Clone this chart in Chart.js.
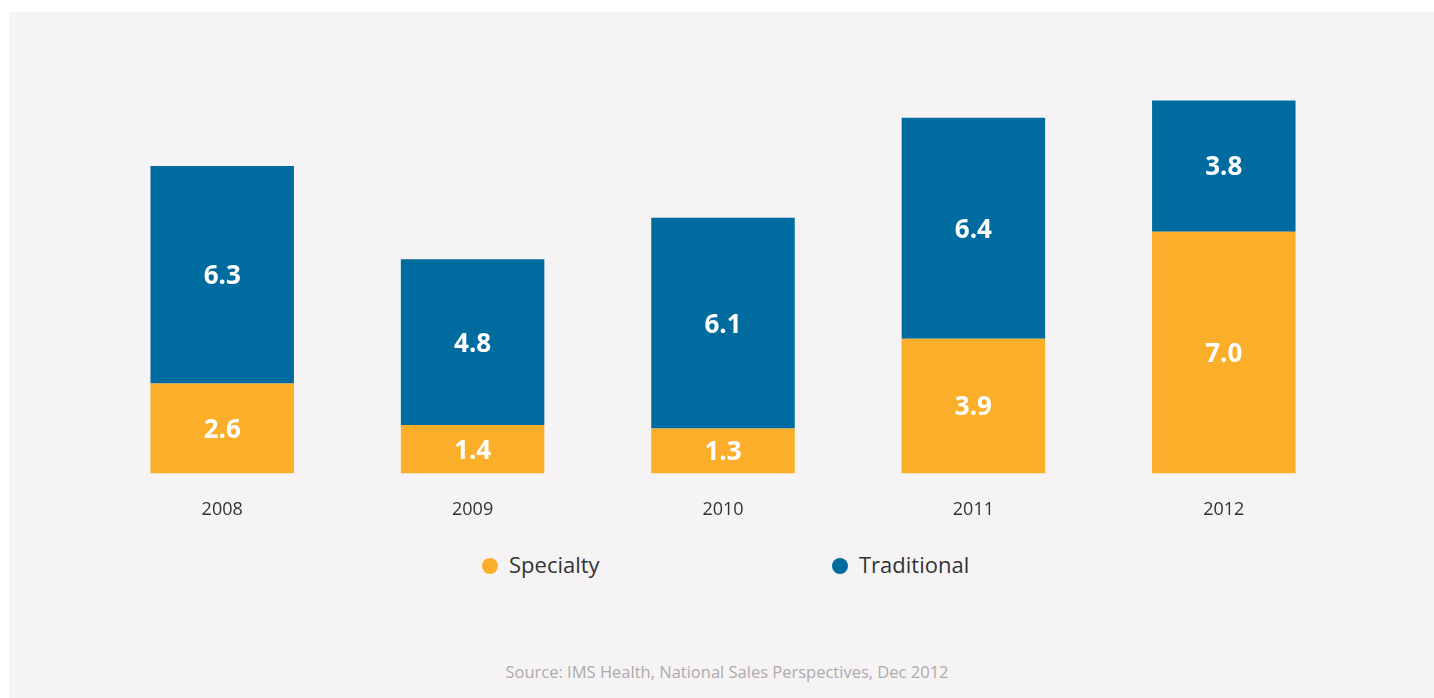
<!DOCTYPE html>
<html>
<head>
<meta charset="utf-8">
<script src="https://cdn.jsdelivr.net/npm/chart.js@4.4.1/dist/chart.umd.min.js"></script>
<style>
  html, body { margin: 0; padding: 0; background: #ffffff; width: 1434px; height: 698px; overflow: hidden; }
  #bg { position: absolute; left: 9px; top: 12px; width: 1425px; height: 686px; background: #f5f3f4; }
  #wrap { position: absolute; left: 0; top: 0; width: 1434px; height: 547px; }
  .legend { position: absolute; top: 551px; font-family: "Open Sans", sans-serif; font-size: 22px; color: #333; line-height: 26px; }
  .legend .dot { display: inline-block; width: 16px; height: 16px; border-radius: 50%; vertical-align: -1px; margin-right: 11px; }
  #source { position: absolute; top: 660px; left: 0; width: 1454px; text-align: center; font-family: "Open Sans", sans-serif; font-size: 16.5px; color: #aeabae; }
</style>
</head>
<body>
<div id="bg"></div>
<div id="wrap"><canvas id="c"></canvas></div>
<div id="legend"></div>
<div id="source">Source: IMS Health, National Sales Perspectives, Dec 2012</div>
<script>
const categories = ["2008", "2009", "2010", "2011", "2012"];
const specialty = [2.6, 1.4, 1.3, 3.9, 7.0];
const traditional = [6.3, 4.8, 6.1, 6.4, 3.8];
const seriesNames = ["Specialty", "Traditional"];
const seriesColors = ["#fbae2a", "#006b9f"];

const legendEl = document.getElementById('legend');
const legendX = [482, 832];
seriesNames.forEach((n, i) => {
  const d = document.createElement('div');
  d.className = 'legend';
  d.style.left = legendX[i] + 'px';
  d.innerHTML = '<span class="dot" style="background:' + seriesColors[i] + '"></span>' + n;
  legendEl.appendChild(d);
});

const labelPlugin = {
  id: 'barLabels',
  afterDatasetsDraw(chart) {
    const ctx = chart.ctx;
    ctx.save();
    ctx.font = 'bold 26px "Open Sans", sans-serif';
    ctx.fillStyle = '#ffffff';
    ctx.textAlign = 'center';
    ctx.textBaseline = 'middle';
    chart.data.datasets.forEach((ds, di) => {
      const meta = chart.getDatasetMeta(di);
      meta.data.forEach((bar, i) => {
        const y = (bar.y + bar.base) / 2;
        ctx.fillText(ds.data[i].toFixed(1), bar.x, y + 2);
      });
    });
    ctx.restore();
  }
};

new Chart(document.getElementById('c'), {
  type: 'bar',
  data: {
    labels: categories,
    datasets: [
      { label: seriesNames[0], data: specialty, backgroundColor: seriesColors[0], borderWidth: 0 },
      { label: seriesNames[1], data: traditional, backgroundColor: seriesColors[1], borderWidth: 0 }
    ]
  },
  options: {
    responsive: true,
    maintainAspectRatio: false,
    animation: false,
    layout: { padding: { left: 97, right: 85, top: 59, bottom: 0 } },
    datasets: { bar: { barPercentage: 0.573, categoryPercentage: 1.0 } },
    plugins: { legend: { display: false }, tooltip: { enabled: false } },
    scales: {
      x: {
        stacked: true,
        grid: { display: false, drawTicks: false },
        border: { display: false },
        ticks: { color: '#333333', font: { family: '"Open Sans", sans-serif', size: 18 }, padding: 26 }
      },
      y: {
        stacked: true,
        display: false,
        min: 0,
        max: 12
      }
    }
  },
  plugins: [labelPlugin]
});
</script>
</body>
</html>
